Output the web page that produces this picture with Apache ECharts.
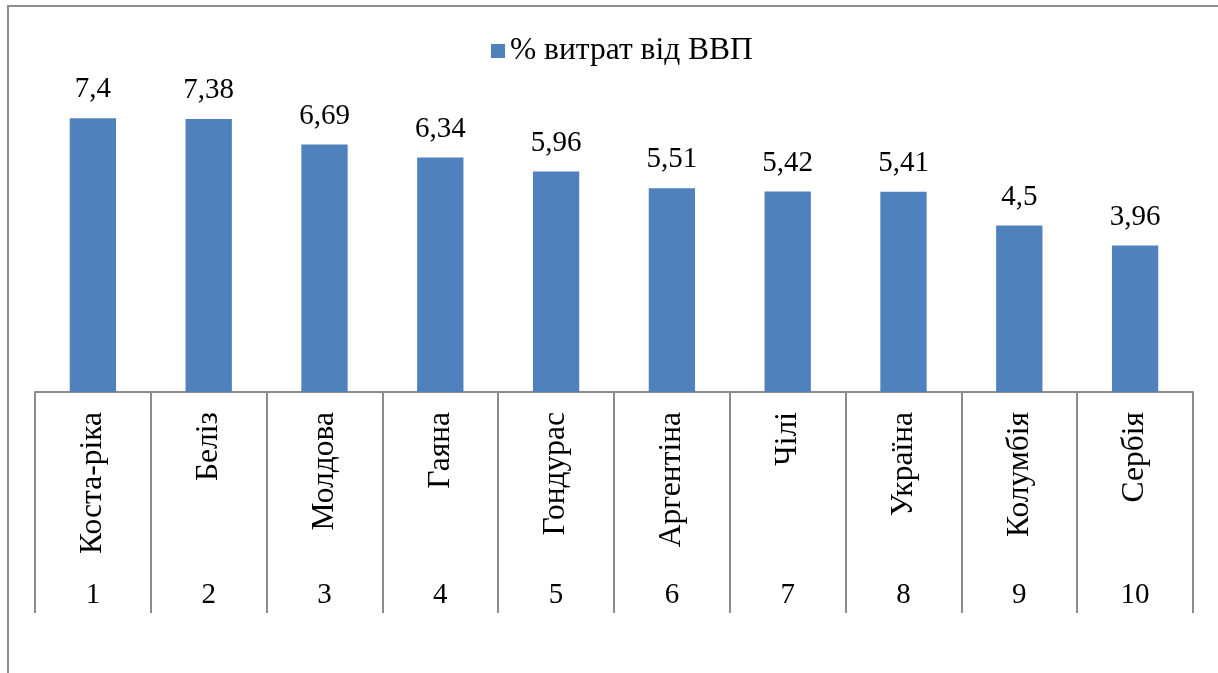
<!DOCTYPE html>
<html>
<head>
<meta charset="utf-8">
<script src="https://cdn.jsdelivr.net/npm/echarts@6/dist/echarts.min.js"></script>
<style>
  html, body { margin: 0; padding: 0; background: #fff; }
  #chart { width: 1218px; height: 673px; }
</style>
</head>
<body>
<div id="chart"></div>
<script>
// data
var countries = ['Коста-ріка', 'Беліз', 'Молдова', 'Гаяна', 'Гондурас', 'Аргентіна', 'Чілі', 'Україна', 'Колумбія', 'Сербія'];
var ranks = ['1', '2', '3', '4', '5', '6', '7', '8', '9', '10'];
var gdpShare = [7.4, 7.38, 6.69, 6.34, 5.96, 5.51, 5.42, 5.41, 4.5, 3.96];

var font = 'Liberation Serif';
var lineGray = '#8c8c8c';

var myChart = echarts.init(document.getElementById('chart'));
myChart.setOption({
  animation: false,
  textStyle: { fontFamily: font, color: '#000' },
  graphic: [
    {
      type: 'rect',
      shape: { x: 8, y: 6, width: 1240, height: 700 },
      style: { fill: 'none', stroke: lineGray, lineWidth: 2 }
    }
  ],
  legend: {
    data: ['% витрат від ВВП'],
    left: 486,
    top: 30,
    itemWidth: 14,
    itemHeight: 14,
    itemGap: 10,
    icon: 'rect',
    textStyle: { fontFamily: font, fontSize: 31.5, color: '#000' }
  },
  grid: {
    left: 35,
    right: 25,
    top: 96,
    bottom: 281
  },
  xAxis: [
    {
      type: 'category',
      data: countries,
      position: 'bottom',
      axisLine: { lineStyle: { color: lineGray, width: 2 } },
      axisTick: { show: true, length: 221, lineStyle: { color: lineGray, width: 2 } },
      axisLabel: {
        rotate: 90,
        margin: 20,
        interval: 0,
        fontFamily: font,
        fontSize: 31.5,
        color: '#000'
      }
    },
    {
      type: 'category',
      data: ranks,
      position: 'bottom',
      offset: 0,
      axisLine: { show: false },
      axisTick: { show: false },
      axisLabel: {
        margin: 189,
        interval: 0,
        fontFamily: font,
        fontSize: 29,
        color: '#000'
      }
    }
  ],
  yAxis: {
    type: 'value',
    min: 0,
    max: 8,
    show: false,
    splitLine: { show: false }
  },
  series: [
    {
      name: '% витрат від ВВП',
      type: 'bar',
      xAxisIndex: 0,
      data: gdpShare,
      barWidth: '40%',
      itemStyle: { color: '#4f81bd' },
      label: {
        show: true,
        position: 'top',
        distance: 14,
        fontFamily: font,
        fontSize: 29,
        color: '#000',
        formatter: function (p) { return String(p.value).replace('.', ','); }
      }
    }
  ]
});
</script>
</body>
</html>
